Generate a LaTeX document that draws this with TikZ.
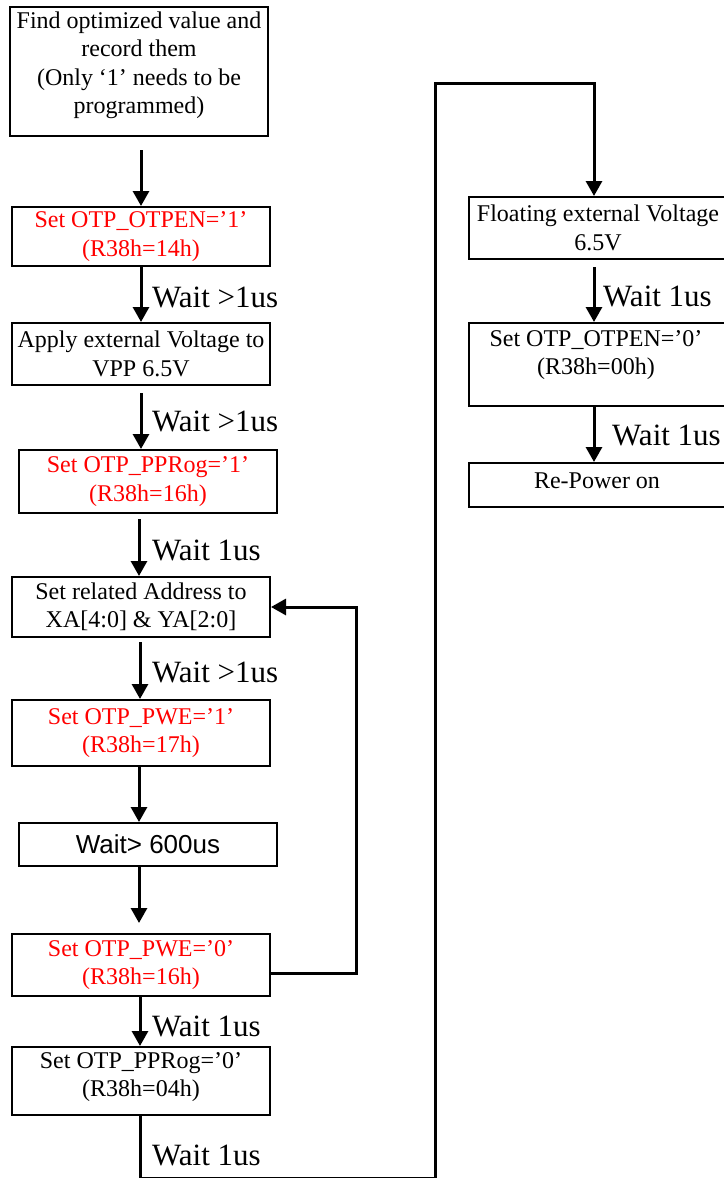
\documentclass[tikz,border=0pt]{standalone}
\usepackage{fontspec}
\setmainfont{Liberation Serif}
\newfontfamily\arialfont{Liberation Sans}
\usetikzlibrary{arrows.meta}
\begin{document}
\begin{tikzpicture}[x=1pt,y=-1pt,
  box/.style={draw, line width=2pt, minimum width=258pt, inner sep=0pt, align=center, font=\fontsize{24}{28.5}\selectfont},
  txt/.style={inner sep=0pt, align=center, font=\fontsize{24}{28.5}\selectfont},
  arr/.style={line width=3pt, -{Triangle[width=16pt,length=15pt]}},
  wlabel/.style={anchor=west, inner sep=0pt, font=\fontsize{31}{35}\selectfont}]
\useasboundingbox (0,0) rectangle (723,1178);
% boxes
\node[box, minimum height=129pt] (b1) at (139,71.5) {};
\node[txt] (b1t) at (139,65.5) {Find optimized value and\\record them\\(Only ‘1’ needs to be\\programmed)};
\node[box, minimum height=59pt, text=red] (b2) at (141,236.5) {Set OTP\_OTPEN=’1’\\(R38h=14h)};
\node[box, minimum height=62pt] (b3) at (141,354) {Apply external Voltage to\\VPP 6.5V};
\node[box, minimum height=63pt, text=red] (b4) at (148,481.5) {Set OTP\_PPRog=’1’\\(R38h=16h)};
\node[box, minimum height=60pt] (b5) at (141,607) {Set related Address to\\XA[4:0] \& YA[2:0]};
\node[box, minimum height=66pt, text=red] (b6) at (141,733) {Set OTP\_PWE=’1’\\(R38h=17h)};
\node[box, minimum height=43pt, font=\arialfont\fontsize{26}{30}\selectfont] (b7) at (148,844.5) {Wait> 600us};
\node[box, minimum height=62pt, text=red] (b8) at (141,965) {Set OTP\_PWE=’0’\\(R38h=16h)};
\node[box, minimum height=68pt] (b9) at (141,1081) {};
\node[txt] (b9t) at (141,1077) {Set OTP\_PPRog=’0’\\(R38h=04h)};
\node[box, minimum height=62pt] (b10) at (598,228) {Floating external Voltage\\6.5V};
\node[box, minimum height=83pt] (b11) at (598,364.5) {};
\node[txt] (b11t) at (596,355) {Set OTP\_OTPEN=’0’\\(R38h=00h)};
\node[box, minimum height=44pt] (b12) at (598,485) {};
\node[txt] (b12t) at (597,481) {Re-Power on};
% connectors
\coordinate (a1s) at (141,150);
\draw[arr] (a1s) -- (a1s |- b2.north);
\draw[arr] (b2.south) -- (b3.north);
\coordinate (a3s) at (141,393);
\draw[arr] (a3s) -- (a3s |- b4.north);
\coordinate (a4s) at (139,519);
\draw[arr] (a4s) -- (a4s |- b5.north);
\coordinate (a5s) at (140,642);
\draw[arr] (a5s) -- (a5s |- b6.north);
\draw[arr] ([xshift=-2pt]b6.south) -- ([xshift=-2pt]b6.south |- b7.north);
\coordinate (a7e) at (139,923);
\draw[arr] ([xshift=-9pt]b7.south) -- (a7e);
\draw[arr] ([xshift=-1pt]b8.south) -- ([xshift=-1pt]b8.south |- b9.north);
\coordinate (c1) at (140,1178);
\coordinate (c2) at (435,1178);
\coordinate (c3) at (435,83);
\coordinate (c4) at (594,83);
\draw[arr] ([xshift=-1pt]b9.south) -- (c1) -- (c2) -- (c3) -- (c4) -- (c4 |- b10.north);
\coordinate (l1) at (356,973);
\coordinate (l2) at (356,607);
\draw[arr] (b8.east |- l1) -- (l1) -- (l2) -- (b5.east);
\coordinate (a10s) at (594,267);
\draw[arr] (a10s) -- (a10s |- b11.north);
\draw[arr] (b11.south -| a10s) -- (b12.north -| a10s);
% labels
\node[wlabel] (w2) at (152,297) {Wait >1us};
\node[wlabel] (w3) at (152,421) {Wait >1us};
\node[wlabel] (w4) at (152,550) {Wait 1us};
\node[wlabel] (w5) at (152,672) {Wait >1us};
\node[wlabel] (w8) at (152,1026) {Wait 1us};
\node[wlabel] (w9) at (152,1155) {Wait 1us};
\node[wlabel] (w10) at (603,296) {Wait 1us};
\node[wlabel] (w11) at (612,435) {Wait 1us};
\end{tikzpicture}
\end{document}
